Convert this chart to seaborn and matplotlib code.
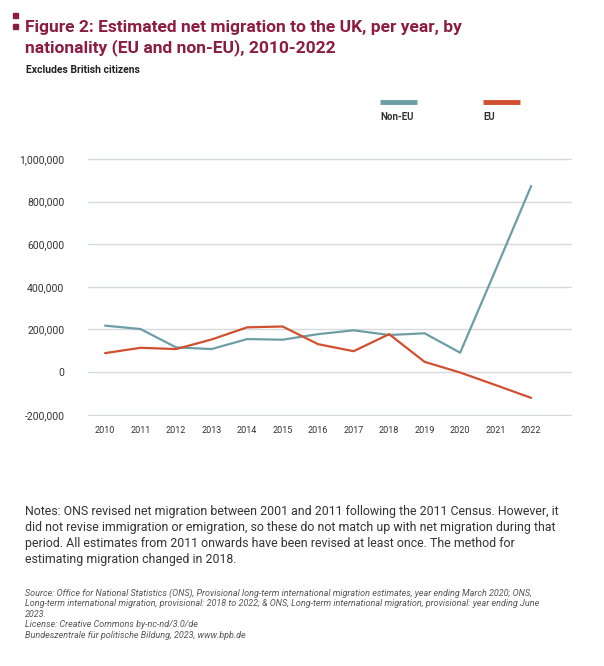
import matplotlib
matplotlib.use('Agg')
import matplotlib.pyplot as plt
from matplotlib.lines import Line2D
from matplotlib.patches import Rectangle
from matplotlib.ticker import FuncFormatter
import pandas as pd
import seaborn as sns

# Data
years = list(range(2010, 2023))
non_eu = [218000, 202000, 116000, 108000, 155000, 152000, 178000,
          196000, 174000, 182000, 91000, 480000, 873000]
eu = [89000, 114000, 108000, 153000, 210000, 214000, 131000,
      98000, 178000, 48000, -2000, -61000, -121000]
series_names = ['Non-EU', 'EU']
yticks = [-200000, 0, 200000, 400000, 600000, 800000, 1000000]

colors = {'Non-EU': '#6d9ea6', 'EU': '#d0502f'}
title_color = '#8c1c40'

df = pd.DataFrame({'year': years, 'Non-EU': non_eu, 'EU': eu})
long_df = df.melt(id_vars='year', var_name='group', value_name='net')

sns.set_theme(style='white')
plt.rcParams['font.family'] = ['Roboto', 'DejaVu Sans']

W, H = 604, 666
fig = plt.figure(figsize=(W / 100, H / 100), dpi=100)

def fx(px):
    return px / W

def fy(py):
    return 1 - py / H

ax = fig.add_axes([fx(88), fy(416), fx(572) - fx(88), fy(140) - fy(416)])
sns.lineplot(data=long_df, x='year', y='net', hue='group', palette=colors,
             linewidth=1.6, legend=False, ax=ax)

ax.set_xlim(2009.52, 2023.15)
ax.set_ylim(-206000, 1089000)
ax.set_xticks(years)
ax.set_yticks(yticks)
ax.yaxis.set_major_formatter(FuncFormatter(lambda v, p: f'{int(v):,}'))
ax.grid(axis='y', color='#d5dadd', linewidth=1.0)
ax.grid(axis='x', visible=False)
ax.set_axisbelow(True)
for s in ax.spines.values():
    s.set_visible(False)
ax.tick_params(axis='y', length=0, pad=17, labelsize=7.5, labelcolor='#333333')
ax.tick_params(axis='x', length=0, pad=7, labelsize=6.5, labelcolor='#333333')
ax.set_xlabel('')
ax.set_ylabel('')

# legend drawn like the original: short line above each label
leg_x = [380, 483]
for name, x0 in zip(series_names, leg_x):
    fig.add_artist(Line2D([fx(x0), fx(x0 + 37)], [fy(102), fy(102)],
                          color=colors[name], linewidth=3.5,
                          solid_capstyle='butt'))
    fig.text(fx(x0), fy(117), name, fontsize=7, fontweight='bold',
             color='#333333', va='center', ha='left')

# title block
fig.add_artist(Rectangle((fx(12.5), fy(17.5)), fx(5), 5 / H, color=title_color))
fig.add_artist(Rectangle((fx(12.5), fy(29)), fx(5), 5 / H, color=title_color))
fig.text(fx(25), fy(38), 'Figure 2: Estimated net migration to the UK, per year, by\n'
         'nationality (EU and non-EU), 2010-2022',
         fontsize=12.5, fontweight='bold', color=title_color,
         va='center', ha='left', linespacing=1.38)
fig.text(fx(26), fy(70), 'Excludes British citizens', fontsize=7.5,
         fontweight='bold', color='#222222', va='center', ha='left')

notes = ('Notes: ONS revised net migration between 2001 and 2011 following the 2011 Census. However, it\n'
         'did not revise immigration or emigration, so these do not match up with net migration during that\n'
         'period. All estimates from 2011 onwards have been revised at least once. The method for\n'
         'estimating migration changed in 2018.')
fig.text(fx(25), fy(536), notes, fontsize=8.9, color='#333333',
         va='center', ha='left', linespacing=1.3)

source = ('Source: Office for National Statistics (ONS), Provisional long-term international migration estimates, year ending March 2020; ONS,\n'
          'Long-term international migration, provisional: 2018 to 2022; & ONS, Long-term international migration, provisional: year ending June\n'
          '2023.\n'
          'License: Creative Commons by-nc-nd/3.0/de\n'
          'Bundeszentrale f\u00fcr politische Bildung, 2023, www.bpb.de')
fig.text(fx(25), fy(614), source, fontsize=6.45, fontstyle='italic',
         color='#555555', va='center', ha='left', linespacing=1.2)

fig.savefig('out.png', dpi=100, facecolor='white')
